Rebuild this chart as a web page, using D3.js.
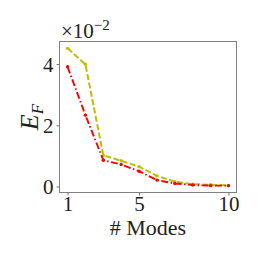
<!DOCTYPE html>
<html>
<head>
<meta charset="utf-8">
<script src="https://cdn.jsdelivr.net/npm/d3@7"></script>
<style>
  html, body { margin: 0; padding: 0; background: #fff; }
</style>
</head>
<body>
<svg id="chart" width="262" height="262"></svg>
<script>
// values, in units of 1e-2
const modes = [1, 2, 3, 4, 5, 6, 7, 8, 9, 10];
const yellowSeries = [4.51, 3.99, 1.02, 0.84, 0.65, 0.35, 0.16, 0.08, 0.06, 0.04];
const redSeries = [3.91, 2.33, 0.86, 0.72, 0.50, 0.21, 0.10, 0.05, 0.03, 0.03];
const xTicks = [1, 5, 10];
const yTicks = [0, 2, 4];

const FONT = '"Liberation Serif", "DejaVu Serif", serif';
const svg = d3.select('#chart');
const box = { left: 59.5, right: 236.5, top: 41.5, bottom: 192.5 };

// matplotlib style 5% margins
const allY = yellowSeries.concat(redSeries);
const yMin = d3.min(allY), yMax = d3.max(allY);
const yPad = (yMax - yMin) * 0.05;
const xPad = (d3.max(modes) - d3.min(modes)) * 0.05;

const x = d3.scaleLinear()
    .domain([d3.min(modes) - xPad, d3.max(modes) + xPad])
    .range([box.left, box.right]);
const y = d3.scaleLinear()
    .domain([yMin - yPad, yMax + yPad])
    .range([box.bottom, box.top]);

// Axes
const xAxis = svg.append('g')
    .attr('transform', `translate(0,${box.bottom})`)
    .call(d3.axisBottom(x).tickValues(xTicks).tickFormat(d3.format('d')).tickSize(3).tickPadding(2));
const yAxis = svg.append('g')
    .attr('transform', `translate(${box.left},0)`)
    .call(d3.axisLeft(y).tickValues(yTicks).tickFormat(d3.format('d')).tickSize(3).tickPadding(3));

[xAxis, yAxis].forEach(g => {
    g.attr('font-family', FONT).attr('font-size', 21);
    g.select('.domain').remove();
    g.selectAll('line').attr('stroke', '#555').attr('stroke-width', 0.8);
    g.selectAll('text').attr('fill', '#222');
});
xAxis.selectAll('text').attr('y', 18).attr('dy', 0);
yAxis.selectAll('text').attr('dy', '0.34em');

// Frame
svg.append('rect')
    .attr('x', box.left).attr('y', box.top)
    .attr('width', box.right - box.left).attr('height', box.bottom - box.top)
    .attr('fill', 'none').attr('stroke', '#808080').attr('stroke-width', 1);

// Lines
const line = d3.line().x((d, i) => x(modes[i])).y(d => y(d));

svg.append('path').datum(yellowSeries)
    .attr('d', line).attr('fill', 'none')
    .attr('stroke', '#bfbf00').attr('stroke-width', 2)
    .attr('stroke-dasharray', '6,2.5');
svg.selectAll('.dot-y').data(yellowSeries).join('circle')
    .attr('class', 'dot-y')
    .attr('cx', (d, i) => x(modes[i])).attr('cy', d => y(d))
    .attr('r', 1.7).attr('fill', '#bfbf00');

svg.append('path').datum(redSeries)
    .attr('d', line).attr('fill', 'none')
    .attr('stroke', '#ff0000').attr('stroke-width', 1.9)
    .attr('stroke-dasharray', '7,2.5,1.5,2.5');
svg.selectAll('.dot-r').data(redSeries).join('circle')
    .attr('class', 'dot-r')
    .attr('cx', (d, i) => x(modes[i])).attr('cy', d => y(d))
    .attr('r', 1.7).attr('fill', '#ff0000');

// Offset text  ×10^-2
const off = svg.append('text').attr('x', 61).attr('y', 38)
    .attr('font-family', FONT).attr('font-size', 21).attr('fill', '#222');
off.append('tspan').text('×10');
off.append('tspan').attr('dy', -8).attr('font-size', 15).text('−2');

// Axis labels
svg.append('text')
    .attr('x', 148).attr('y', 235)
    .attr('text-anchor', 'middle')
    .attr('font-family', FONT).attr('font-size', 22).attr('fill', '#222')
    .text('# Modes');

const yl = svg.append('text')
    .attr('transform', `translate(38,${(box.top + box.bottom) / 2}) rotate(-90)`)
    .attr('text-anchor', 'middle')
    .attr('font-family', FONT).attr('font-size', 26).attr('fill', '#222');
yl.append('tspan').attr('font-style', 'italic').text('E');
yl.append('tspan').attr('dy', 5).attr('font-style', 'italic').attr('font-size', 17).text('F');
</script>
</body>
</html>
